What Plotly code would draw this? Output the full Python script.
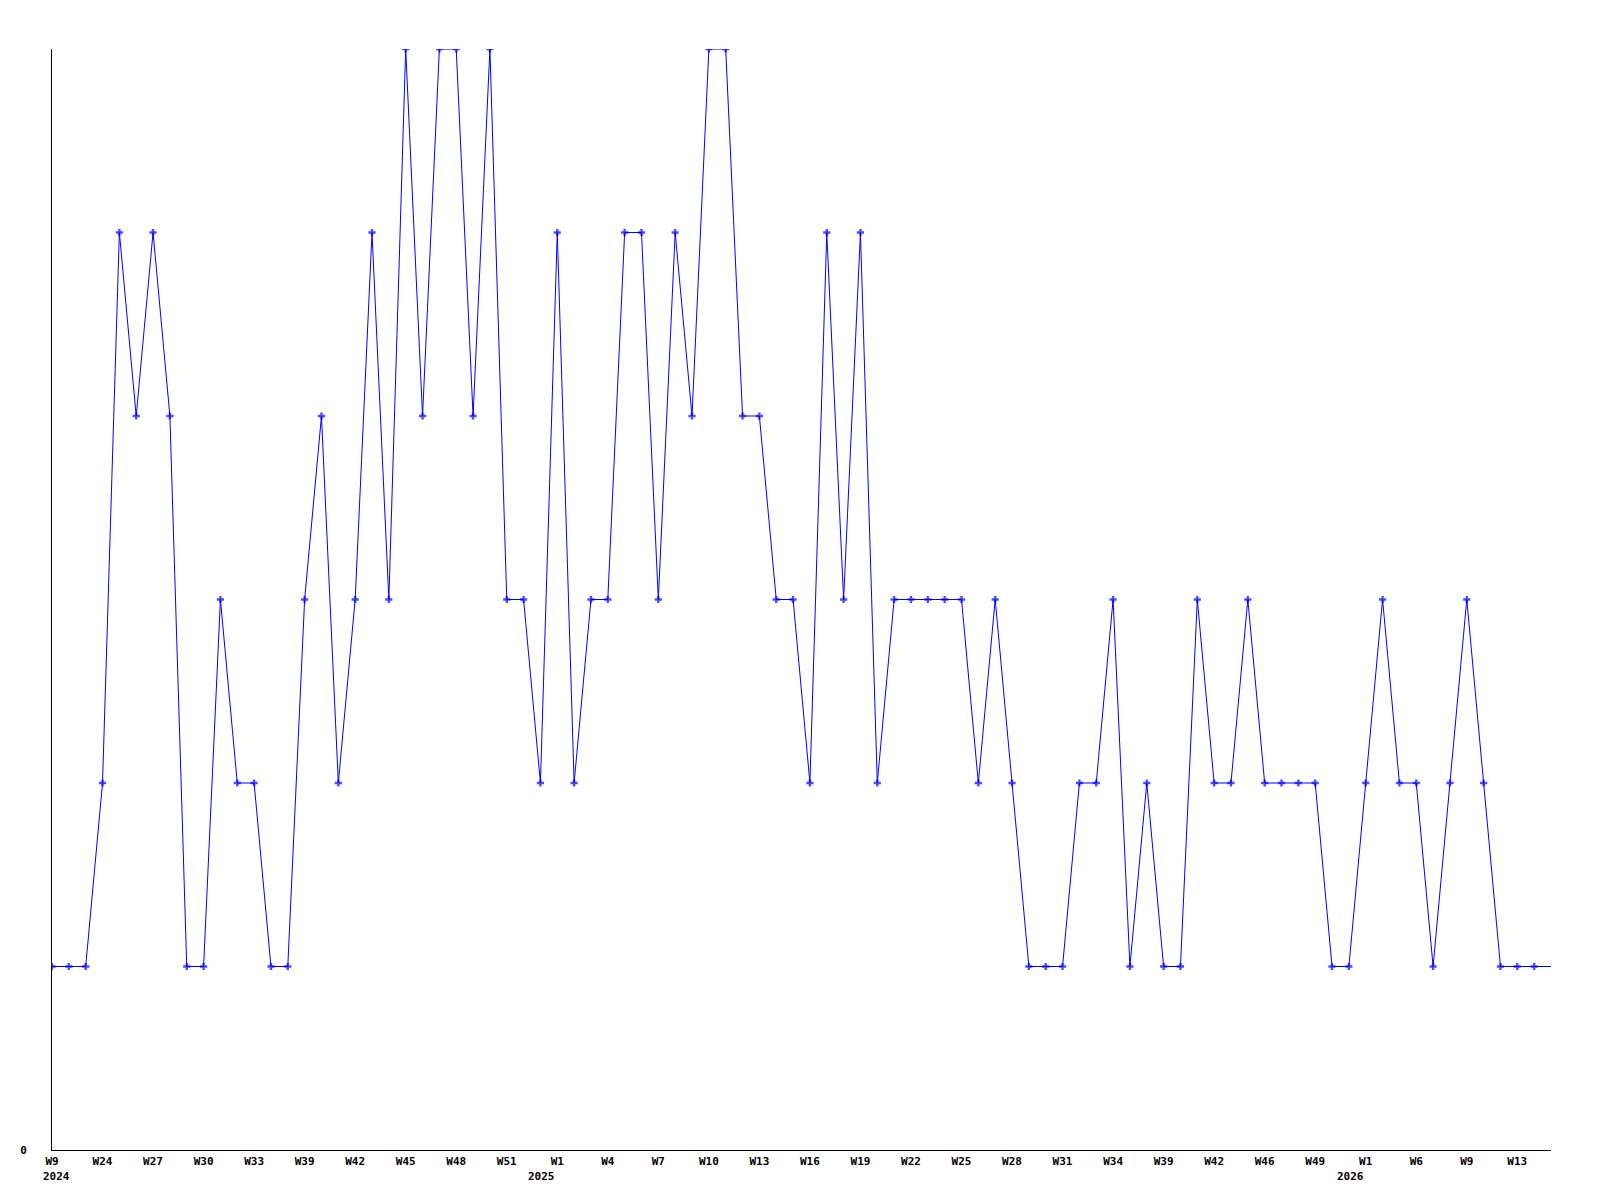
import plotly.graph_objects as go

# week labels per point (only every third one is printed on the axis)
weeks_2024 = ["W9", "W22", "W23", "W24", "W25", "W26", "W27", "W28", "W29", "W30",
              "W31", "W32", "W33", "W34", "W36", "W39", "W40", "W41", "W42", "W43",
              "W44", "W45", "W46", "W47", "W48", "W49", "W50", "W51", "W52", "W53"]
weeks_2025 = ["W1", "W2", "W3", "W4", "W5", "W6", "W7", "W8", "W9", "W10",
              "W11", "W12", "W13", "W14", "W15", "W16", "W17", "W18", "W19", "W20",
              "W21", "W22", "W23", "W24", "W25", "W26", "W27", "W28", "W29", "W30",
              "W31", "W32", "W33", "W34", "W35", "W37", "W39", "W40", "W41", "W42",
              "W43", "W44", "W46", "W47", "W48", "W49", "W50", "W51"]
weeks_2026 = ["W1", "W2", "W4", "W6", "W7", "W8", "W9", "W10", "W12", "W13",
              "W14", "W15"]

values = [1, 1, 1, 2, 5, 4, 5, 4, 1, 1,
          3, 2, 2, 1, 1, 3, 4, 2, 3, 5,
          3, 6, 4, 6, 6, 4, 6, 3, 3, 2,
          5, 2, 3, 3, 5, 5, 3, 5, 4, 6,
          6, 4, 4, 3, 3, 2, 5, 3, 5, 2,
          3, 3, 3, 3, 3, 2, 3, 2, 1, 1,
          1, 2, 2, 3, 1, 2, 1, 1, 3, 2,
          2, 3, 2, 2, 2, 2, 1, 1, 2, 3,
          2, 2, 1, 2, 3, 2, 1, 1, 1, 1]

years = [("2024", weeks_2024), ("2025", weeks_2025), ("2026", weeks_2026)]
categories = []
week_text = []
for yr, wk in years:
    for w in wk:
        categories.append(f"{yr}-{w}")
        week_text.append(w)

tick_vals = categories[::3]
tick_text = week_text[::3]

mono = "DejaVu Sans Mono"

# last point sits on the right edge, no marker drawn there
marker_sizes = [6] * (len(values) - 1) + [0]

fig = go.Figure()
fig.add_trace(go.Scatter(
    x=categories,
    y=values,
    mode="lines+markers",
    line=dict(color="#0000ff", width=1),
    marker=dict(symbol="cross", size=marker_sizes, color="#0000ff", line=dict(width=0)),
    showlegend=False,
    hoverinfo="x+y",
))

# year labels under the first week of each year
year_starts = [(0, "2024", "left", -11), (len(weeks_2024), "2025", "right", 0),
               (len(weeks_2024) + len(weeks_2025), "2026", "right", 0)]
for idx, label, anchor, shift in year_starts:
    fig.add_annotation(
        x=categories[idx], y=0, xref="x", yref="y",
        text=f"<b>{label}</b>", showarrow=False,
        xanchor=anchor, yanchor="top", xshift=shift, yshift=-18,
        font=dict(family=mono, size=11, color="black"),
    )

fig.update_layout(
    width=1584,
    height=1184,
    margin=dict(l=42, r=41, t=41, b=42),
    plot_bgcolor="white",
    paper_bgcolor="white",
    font=dict(family=mono, size=11, color="black"),
    xaxis=dict(
        type="category",
        range=[0, len(categories) - 1],
        tickmode="array",
        tickvals=tick_vals,
        ticktext=[f"<b>{t}</b>" for t in tick_text],
        showgrid=False,
        zeroline=False,
        showline=True,
        linecolor="black",
        linewidth=1,
        ticks="",
        ticklabelstandoff=1,
        tickangle=0,
    ),
    yaxis=dict(
        range=[0, 6],
        tickmode="array",
        tickvals=[0],
        ticktext=["<b>0</b>"],
        showgrid=False,
        zeroline=False,
        showline=True,
        linecolor="black",
        linewidth=1,
        ticks="",
        ticklabelstandoff=22,
    ),
)

fig.write_html("out.html")
